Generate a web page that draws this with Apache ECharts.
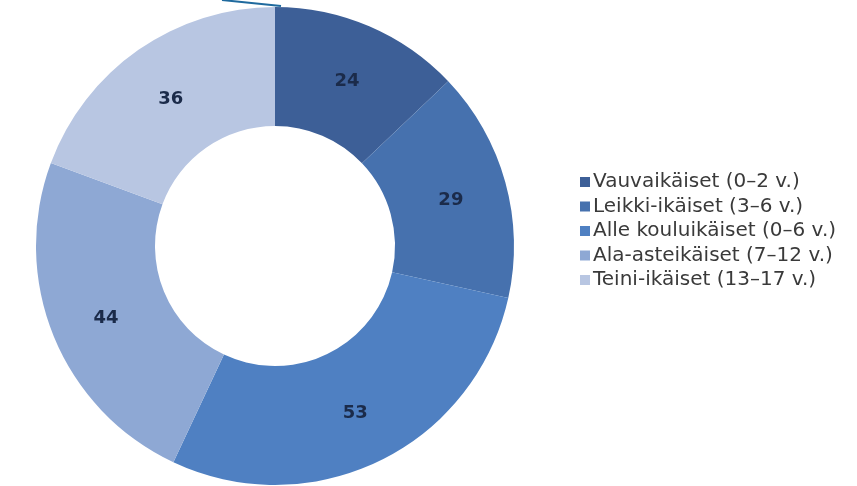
<!DOCTYPE html>
<html>
<head>
<meta charset="utf-8">
<script src="https://cdn.jsdelivr.net/npm/echarts@6/dist/echarts.min.js"></script>
<style>
  html, body { margin: 0; padding: 0; background: #fff; }
  #chart { width: 857px; height: 486px; }
</style>
</head>
<body>
<div id="chart"></div>
<script>
const categories = [
  "Vauvaikäiset (0–2 v.)",
  "Leikki-ikäiset (3–6 v.)",
  "Alle kouluikäiset (0–6 v.)",
  "Ala-asteikäiset (7–12 v.)",
  "Teini-ikäiset (13–17 v.)"
];
const values = [24, 29, 53, 44, 36];
const colors = ["#3d5f97", "#4671ae", "#4f80c2", "#8ea8d4", "#b8c6e2"];

const chart = echarts.init(document.getElementById("chart"));

const option = {
  animation: false,
  color: colors,
  legend: {
    orient: "vertical",
    left: 575,
    top: 167,
    itemWidth: 10,
    itemHeight: 10,
    itemGap: 4.5,
    icon: "rect",
    textStyle: {
      fontFamily: "DejaVu Sans",
      fontSize: 20,
      lineHeight: 20,
      color: "#3a3a3a",
      padding: [0, 0, 0, -2]
    },
    data: categories
  },
  graphic: [
    {
      type: "line",
      shape: { x1: 222, y1: 0, x2: 281, y2: 6 },
      style: { stroke: "#1f6a9e", lineWidth: 2 },
      z: 100
    }
  ],
  series: [
    {
      type: "pie",
      center: [275, 246],
      radius: [120, 239],
      startAngle: 90,
      clockwise: true,
      avoidLabelOverlap: false,
      itemStyle: { borderWidth: 0 },
      label: {
        show: true,
        position: "inner",
        formatter: "{c}",
        fontFamily: "DejaVu Sans",
        fontSize: 18,
        fontWeight: "bold",
        color: "#1b2b4a",
        offset: [0, 3]
      },
      labelLine: { show: false },
      emphasis: { disabled: true },
      data: categories.map((name, i) => ({ name: name, value: values[i] }))
    }
  ]
};

chart.setOption(option);
</script>
</body>
</html>
